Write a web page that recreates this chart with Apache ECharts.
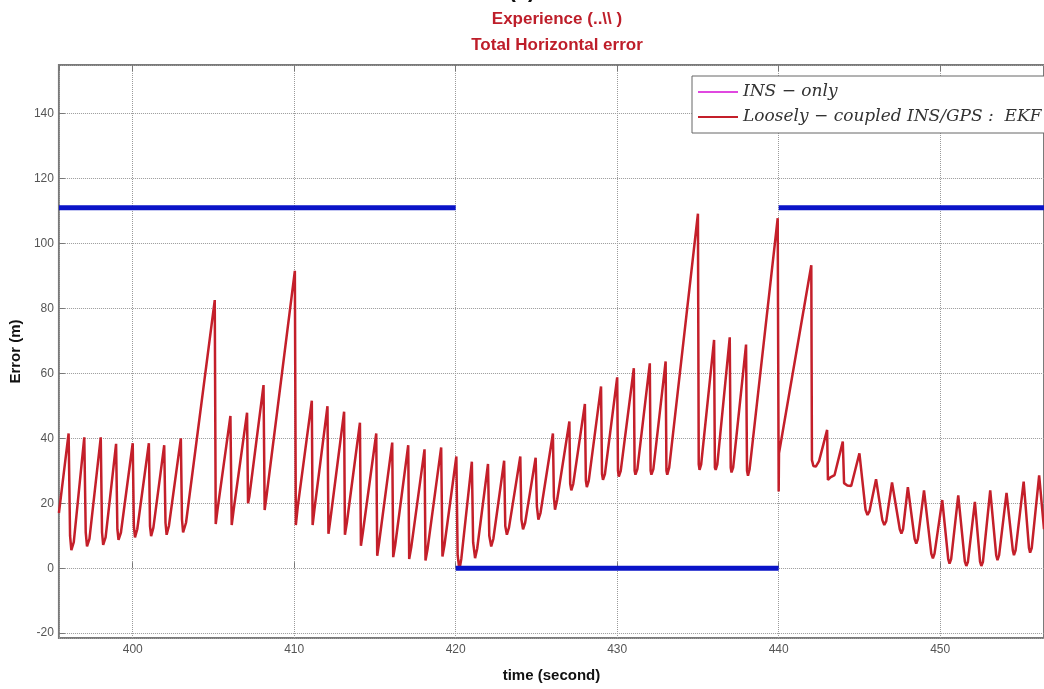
<!DOCTYPE html>
<html>
<head>
<meta charset="utf-8">
<script src="https://cdn.jsdelivr.net/npm/echarts@6/dist/echarts.min.js"></script>
<style>
  html, body { margin: 0; padding: 0; background: #fff; }
  #chart { width: 1044px; height: 689px; }
</style>
</head>
<body>
<div id="chart"></div>
<script>
// time window shown (s)
var timeMin = 395.43;
var timeMax = 456.43;

// Loosely-coupled INS/GPS : EKF, total horizontal error (m)
var redTime = [
    395.43, 396.03, 396.12, 396.2, 396.35, 397.0, 397.09, 397.17, 397.32,
    398.02, 398.1, 398.17, 398.32, 398.97, 399.05, 399.12, 399.27,
    400.0, 400.07, 400.14, 400.28, 401.0, 401.07, 401.14, 401.28,
    401.95, 402.03, 402.1, 402.24, 402.98, 403.05, 403.12, 403.3,
    405.08, 405.14, 405.25, 406.05, 406.13, 406.25, 407.08, 407.14, 407.22,
    408.1, 408.17, 408.28, 410.04, 410.1, 410.22,
    411.09, 411.14, 411.25, 412.06, 412.12, 412.24, 413.09, 413.14, 413.26,
    414.07, 414.13, 414.25, 415.08, 415.14, 415.26, 416.07, 416.13, 416.25,
    417.06, 417.12, 417.25, 418.07, 418.13, 418.26, 419.1, 419.18, 419.3,
    420.04, 420.12, 420.23, 420.35, 421.0, 421.08, 421.2, 421.33,
    422.0, 422.08, 422.2, 422.33, 423.0, 423.07, 423.17, 423.3,
    424.0, 424.07, 424.17, 424.3, 424.95, 425.03, 425.12, 425.25,
    426.02, 426.08, 426.15, 426.28, 427.04, 427.09, 427.16, 427.28,
    428.0, 428.06, 428.12, 428.24, 429.0, 429.06, 429.12, 429.24,
    430.0, 430.05, 430.1, 430.22, 431.03, 431.08, 431.13, 431.25,
    432.02, 432.07, 432.12, 432.24, 433.0, 433.05, 433.1, 433.22,
    435.0, 435.05, 435.1, 435.2, 436.0, 436.05, 436.1, 436.2,
    436.97, 437.03, 437.08, 437.18, 437.98, 438.04, 438.1, 438.2,
    439.94, 440.0, 440.02, 442.02, 442.06, 442.15, 442.3, 442.5,
    443.0, 443.05, 443.2, 443.46, 443.97, 444.05, 444.25, 444.49,
    445.0, 445.38, 445.5, 445.62, 446.03, 446.42, 446.54, 446.66,
    447.02, 447.5, 447.6, 447.7, 448.0, 448.42, 448.52, 448.62,
    449.0, 449.45, 449.55, 449.65, 450.13, 450.5, 450.58, 450.68,
    451.12, 451.53, 451.62, 451.72, 452.15, 452.47, 452.55, 452.65,
    453.1, 453.47, 453.55, 453.65, 454.11, 454.5, 454.57, 454.67,
    455.17, 455.5, 455.57, 455.67, 456.13, 456.43
];
var redError = [
    17, 41.5, 10, 5.6, 8, 40.3, 11, 6.7, 9,
    40.3, 11, 7.2, 9.5, 38.3, 12, 8.7, 11,
    38.5, 13, 9.5, 12, 38.5, 13, 9.9, 12.5,
    37.9, 14, 10.3, 13, 40, 15, 11, 14,
    82.6, 13.6, 18, 46.9, 13.3, 18, 47.9, 20, 22,
    56.4, 17.9, 22, 91.6, 13.3, 19,
    51.6, 13.3, 18, 49.9, 10.6, 15, 48.2, 10.3, 14,
    44.8, 6.9, 11, 41.5, 3.8, 8, 38.7, 3.4, 7,
    37.9, 2.8, 6.5, 36.6, 2.4, 6, 37.2, 3.6, 7,
    34.4, 4, -0.5, 3, 32.8, 8, 3.1, 6,
    32.1, 10, 6.7, 9, 33.1, 13, 10.3, 12.5,
    34.4, 15, 12, 14, 34, 19, 15, 17,
    41.5, 22, 18, 21, 45.2, 26, 24, 26,
    50.6, 27, 25, 27, 56, 29, 27.2, 29,
    58.8, 30, 28.2, 30, 61.6, 30, 28.8, 30.5,
    63.1, 30, 28.8, 30.5, 63.7, 30, 28.8, 31,
    109.2, 32, 30.3, 32, 70.3, 31, 30.3, 32,
    71.1, 31, 29.5, 31, 68.9, 30, 28.5, 30.5,
    107.8, 23.6, 35.4, 93.3, 33.3, 31.5, 31.3, 33,
    42.6, 27.2, 28, 28.7, 39, 26.2, 25.5, 25.3,
    35.4, 18, 16.4, 17.5, 27.4, 14.8, 13.3, 14.5,
    26.4, 12, 10.7, 12, 25, 9, 7.6, 9,
    24, 4.5, 3, 4.5, 21, 2.8, 1.4, 2.8,
    22.4, 2, 0.7, 2, 20.4, 2, 0.7, 2,
    24, 4, 2.5, 4, 23.2, 5.5, 4, 5.5,
    26.7, 6.2, 4.8, 6.2, 28.6, 12
];

// GPS availability indicator (blue): segment start, end, level
var blueStart = [395.43, 420, 440];
var blueEnd = [420, 440, 456.43];
var blueLevel = [111, 0, 111];

var yTicks = [-20, 0, 20, 40, 60, 80, 100, 120, 140];
var xTicks = [400, 410, 420, 430, 440, 450];

var redData = redTime.map(function (t, i) { return [t, redError[i]]; });
var blueData = [];
blueStart.forEach(function (s, i) {
    if (i > 0) blueData.push([s, '-']);
    blueData.push([s, blueLevel[i]]);
    blueData.push([blueEnd[i], blueLevel[i]]);
});

var tickFont = {
    color: '#555',
    fontSize: 12,
    fontFamily: "'Liberation Sans Narrow', 'Liberation Sans', Arial, sans-serif"
};

var chart = echarts.init(document.getElementById('chart'));

var option = {
    animation: false,
    backgroundColor: '#fff',
    title: [
        {
            text: '(c)',
            left: 'center',
            top: -25,
            textStyle: { color: '#111', fontSize: 22, fontWeight: 'bold', fontFamily: 'Liberation Sans, Arial' }
        },
        {
            text: 'Experience (..\\\\ )\nTotal Horizontal error',
            left: 552,
            textAlign: 'center',
            top: 1,
            textStyle: {
                color: '#be1e2a',
                fontSize: 17,
                fontWeight: 'bold',
                lineHeight: 26,
                fontFamily: "'Liberation Sans Narrow', 'Liberation Sans', Arial, sans-serif"
            }
        }
    ],
    legend: {
        orient: 'vertical',
        left: 692,
        top: 76,
        padding: [5, 10, 5, 6],
        itemGap: 3,
        itemWidth: 40,
        itemHeight: 2,
        icon: 'rect',
        backgroundColor: '#fff',
        borderColor: '#666',
        borderWidth: 1,
        borderRadius: 0,
        data: ['INS − only', 'Loosely − coupled INS/GPS :  EKF'],
        textStyle: {
            color: '#333',
            fontSize: 17,
            fontStyle: 'italic',
            lineHeight: 22,
            fontFamily: "'DejaVu Serif', 'Liberation Serif', serif"
        }
    },
    grid: {
        left: 57,
        right: 0,
        top: 65,
        bottom: 51,
        show: true,
        borderColor: '#7a7a7a',
        borderWidth: 2
    },
    xAxis: [
        {
            type: 'value',
            min: timeMin,
            max: timeMax,
            splitNumber: 6,
            name: 'time (second)',
            nameLocation: 'middle',
            nameGap: 30,
            nameTextStyle: { color: '#111', fontSize: 15, fontWeight: 'bold', fontFamily: "'Liberation Sans', Arial" },
            axisLine: { show: false },
            axisTick: { show: true, inside: true, length: 6, lineStyle: { color: '#777' } },
            axisLabel: {
                show: true, showMinLabel: false, showMaxLabel: false, margin: 6,
                formatter: function (v) { return xTicks.indexOf(Math.round(v)) >= 0 && Math.abs(v - Math.round(v)) < 1e-6 ? String(v) : ''; },
                color: tickFont.color, fontSize: tickFont.fontSize, fontFamily: tickFont.fontFamily
            },
            splitLine: { show: true, lineStyle: { color: '#9a9a9a', type: 'dotted', width: 1 } }
        },
        {
            type: 'value',
            position: 'top',
            min: timeMin,
            max: timeMax,
            splitNumber: 6,
            axisLine: { show: false },
            axisTick: { show: true, inside: true, length: 6, lineStyle: { color: '#777' } },
            axisLabel: { show: false },
            splitLine: { show: false }
        }
    ],
    yAxis: {
        type: 'value',
        min: -21.5,
        max: 155,
        splitNumber: 9,
        name: 'Error (m)',
        nameLocation: 'middle',
        nameGap: 26,
        nameTextStyle: { color: '#111', fontSize: 15, fontWeight: 'bold', fontFamily: "'Liberation Sans', Arial" },
        axisLine: { show: false },
        axisTick: { show: true, inside: true, length: 6, lineStyle: { color: '#777' } },
        axisLabel: {
            showMinLabel: false, showMaxLabel: false, margin: 5,
            formatter: function (v) { return yTicks.indexOf(v) >= 0 ? String(v) : ''; },
            color: tickFont.color, fontSize: tickFont.fontSize, fontFamily: tickFont.fontFamily
        },
        splitLine: { show: true, lineStyle: { color: '#9a9a9a', type: 'dotted', width: 1 } }
    },
    series: [
        {
            name: 'INS − only',
            type: 'line',
            data: [],
            symbol: 'none',
            color: '#e048e0',
            lineStyle: { width: 2 }
        },
        {
            name: 'Loosely − coupled INS/GPS :  EKF',
            type: 'line',
            data: redData,
            symbol: 'none',
            color: '#c41f2a',
            lineStyle: { width: 2.5 },
            z: 3
        },
        {
            name: 'gps',
            type: 'line',
            data: blueData,
            symbol: 'none',
            color: '#0a14c8',
            connectNulls: false,
            lineStyle: { width: 5 },
            z: 4
        }
    ]
};

chart.setOption(option);
</script>
</body>
</html>
